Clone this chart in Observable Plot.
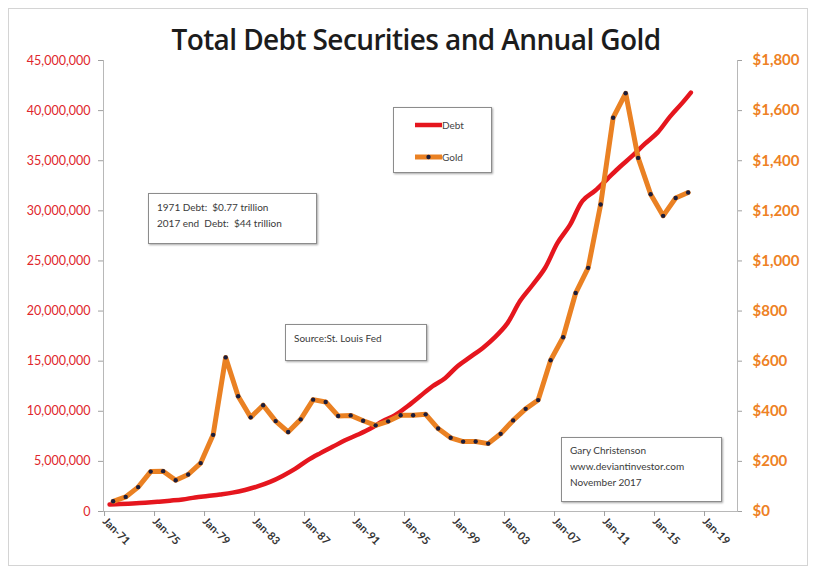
<!DOCTYPE html>
<html><head><meta charset="utf-8">
<script src="https://cdn.jsdelivr.net/npm/d3@7"></script>
<script src="https://cdn.jsdelivr.net/npm/@observablehq/plot@0.6"></script>
<style>
body{margin:0;background:#fff;font-family:Lato,"Open Sans",sans-serif;}
#wrap{position:relative;width:816px;height:581px;overflow:hidden;background:#fff;}
#chart{position:absolute;left:0;top:0;}
#border{position:absolute;left:8px;top:8px;width:800px;height:558px;border:1px solid #d4d4d4;box-sizing:border-box;}
#title{position:absolute;left:0;width:832px;top:20px;line-height:40px;text-align:center;font:600 28px "Open Sans",sans-serif;color:#1c1c1c;letter-spacing:-0.6px;}
.box{position:absolute;border:1.5px solid #8c8c8c;background:#fff;font:10px Lato,sans-serif;color:#3a3a3a;box-shadow:1px 1px 2px rgba(0,0,0,0.35);box-sizing:border-box;line-height:16px;}
.leg{position:absolute;font:10px Lato,sans-serif;color:#444;}
</style></head><body>
<div id="wrap">
  <div id="border"></div>
  <div id="chart"></div>
  <div id="title">Total Debt Securities and Annual Gold</div>
  <div class="box" style="left:148px;top:193px;width:169px;height:51px;padding:5px 0 0 8px;">1971 Debt:&nbsp; $0.77 trillion<br>2017 end&nbsp; Debt:&nbsp; $44 trillion</div>
  <div class="box" style="left:285px;top:324px;width:142px;height:37px;padding:5px 0 0 8px;">Source:St. Louis Fed</div>
  <div class="box" style="left:561px;top:437px;width:161px;height:65px;padding:4px 0 0 8px;">Gary Christenson<br>www.deviantinvestor.com<br>November 2017</div>
  <div class="box" id="legend" style="left:393px;top:107px;width:99px;height:66px;"></div>
</div>
<script>
// ---- data ----
const goldYears = d3.range(1971, 2018);
const goldPrice = [40.8, 58.2, 97.3, 159.3, 161.0, 124.8, 147.7, 193.2, 306.0, 615.0,
  460.0, 375.8, 424.0, 360.7, 317.3, 367.7, 446.5, 437.0, 381.4, 383.5,
  362.1, 343.8, 359.8, 384.0, 384.2, 387.8, 331.0, 294.2, 278.9, 279.1,
  271.0, 310.0, 363.5, 409.7, 444.7, 603.5, 695.4, 871.9, 972.4, 1225.0,
  1571.5, 1669.0, 1411.2, 1266.4, 1180.0, 1251.0, 1273.0];

const debtDates = ["1971-03-01","1972-01-01","1973-01-01","1974-01-01","1975-01-01","1976-01-01","1977-01-01","1978-01-01","1979-01-01","1980-01-01",
  "1981-01-01","1982-01-01","1983-01-01","1984-01-01","1985-01-01","1986-01-01","1987-01-01","1988-01-01","1989-01-01","1990-01-01",
  "1991-01-01","1992-01-01","1993-01-01","1994-01-01","1995-01-01","1996-01-01","1997-01-01","1998-01-01","1999-01-01","2000-01-01",
  "2001-01-01","2002-01-01","2003-01-01","2004-01-01","2005-01-01","2006-01-01","2007-01-01","2008-01-01","2009-01-01","2010-01-01",
  "2011-01-01","2012-01-01","2013-01-01","2014-01-01","2015-01-01","2016-01-01","2017-01-01","2017-09-01"];
const debtValues = [700000, 740000, 800000, 880000, 970000, 1080000, 1200000, 1400000, 1550000, 1700000,
  1880000, 2150000, 2500000, 2950000, 3550000, 4250000, 5100000, 5800000, 6450000, 7100000,
  7650000, 8250000, 9000000, 9600000, 10500000, 11500000, 12500000, 13300000, 14500000, 15400000,
  16300000, 17400000, 18800000, 21000000, 22600000, 24300000, 26800000, 28600000, 31000000, 32000000,
  33200000, 34400000, 35500000, 36700000, 37800000, 39400000, 40800000, 41800000];

const leftTicks = [0, 5000000, 10000000, 15000000, 20000000, 25000000, 30000000, 35000000, 40000000, 45000000];
const rightTicks = [0, 200, 400, 600, 800, 1000, 1200, 1400, 1600, 1800];
const xTickYears = [1971, 1975, 1979, 1983, 1987, 1991, 1995, 1999, 2003, 2007, 2011, 2015, 2019];

// ---- derived tables ----
const LEFT_MAX = 45000000, RIGHT_MAX = 1800, F = LEFT_MAX / RIGHT_MAX;
const gold = goldYears.map((y, i) => ({date: new Date(Date.UTC(y, 5, 14)), value: goldPrice[i] * F}));
const debt = debtDates.map((d, i) => ({date: new Date(d + "T00:00:00Z"), value: debtValues[i]}));
const xTicks = xTickYears.map(y => new Date(Date.UTC(y, 0, 1)));

const RED = "#e5161e", ORANGE = "#ea8123", DOT = "#1b1d3c";

const chart = Plot.plot({
  width: 816, height: 581,
  marginLeft: 103, marginRight: 79, marginTop: 60, marginBottom: 70,
  style: {fontFamily: "Lato, sans-serif", background: "transparent", overflow: "visible"},
  x: {type: "utc", domain: [new Date(Date.UTC(1970, 8, 5)), new Date(Date.UTC(2021, 4, 26))]},
  y: {domain: [0, LEFT_MAX]},
  marks: [
    Plot.frame({anchor: "left", stroke: "#b8b8b8"}),
    Plot.frame({anchor: "right", stroke: "#b8b8b8"}),
    Plot.frame({anchor: "bottom", stroke: "#b8b8b8"}),
    Plot.axisY({ticks: leftTicks, tickFormat: d3.format(","), label: null, tickSize: 5, tickPadding: 8,
      stroke: "#a0a0a0", fill: "#e0262c", fontSize: 12.5}),
    Plot.axisY({ticks: rightTicks.map(v => v * F), anchor: "right", label: null,
      tickFormat: d => "$" + d3.format(",")(Math.round(d / F)), tickSize: 4, tickPadding: 11,
      stroke: "#a0a0a0", fill: "#ee8124", fontSize: 15, fontWeight: "bold"}),
    Plot.axisX({ticks: xTicks, tickFormat: d3.utcFormat("%b-%y"), tickRotate: 45, label: null,
      tickSize: 5, tickPadding: 3, dx: -3, stroke: "#a0a0a0", fill: "#333", fontSize: 11, fontWeight: "bold"}),
    Plot.line(debt, {x: "date", y: "value", stroke: RED, strokeWidth: 4.5, curve: "catmull-rom"}),
    Plot.line(gold, {x: "date", y: "value", stroke: ORANGE, strokeWidth: 5}),
    Plot.dot(gold, {x: "date", y: "value", r: 2.2, fill: DOT, stroke: "none"})
  ]
});
document.getElementById("chart").appendChild(chart);

// legend
const legend = document.getElementById("legend");
legend.innerHTML = `
<svg width="96" height="63" style="position:absolute;left:0;top:0">
  <line x1="21" x2="48" y1="17" y2="17" stroke="${RED}" stroke-width="4.5"/>
  <line x1="21" x2="48" y1="49" y2="49" stroke="${ORANGE}" stroke-width="5"/>
  <circle cx="34.5" cy="49" r="2.2" fill="${DOT}"/>
</svg>
<div class="leg" style="left:48px;top:11px">Debt</div>
<div class="leg" style="left:48px;top:43px">Gold</div>`;
</script>
</body></html>
